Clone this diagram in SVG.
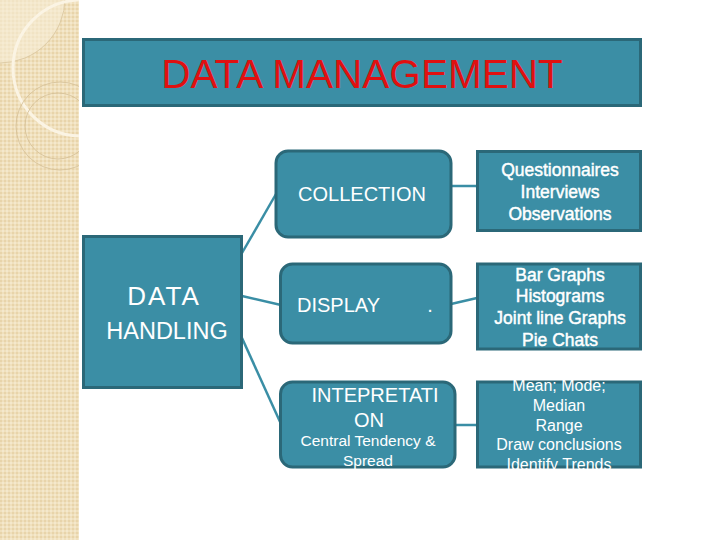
<svg xmlns="http://www.w3.org/2000/svg" width="720" height="540" viewBox="0 0 720 540">
<defs>
<pattern id="tex" width="4" height="4" patternUnits="userSpaceOnUse">
<rect width="4" height="4" fill="#f0e0bd"/>
<rect width="2" height="2" fill="#e8d4aa"/>
<rect x="2" y="2" width="2" height="2" fill="#f4e8cc"/>
</pattern>
<clipPath id="side"><rect x="0" y="0" width="79" height="540"/></clipPath>
<marker id="dot" markerWidth="4" markerHeight="4" refX="2" refY="2" markerUnits="userSpaceOnUse"><circle cx="2" cy="2" r="1.6" fill="#3a8ea5"/></marker>
</defs>
<style>
.box{fill:#3b8ea5;stroke:#2b6878;stroke-width:3}
.t{font-family:"Liberation Sans",Arial,sans-serif;fill:#ffffff}
.m{text-anchor:middle}
.b{stroke:#ffffff;stroke-width:0.45}
.c{stroke:#3a8ea5;stroke-width:2.5;fill:none}
</style>
<rect width="720" height="540" fill="#ffffff"/>
<g id="sidebar" clip-path="url(#side)">
<rect x="0" y="0" width="79" height="540" fill="url(#tex)"/>
<circle cx="0" cy="-2" r="65" fill="#f6ecd6" fill-opacity="0.6" stroke="#d8c49c" stroke-width="0.8"/>
<circle cx="81" cy="68" r="68" fill="none" stroke="#fbf4e4" stroke-width="3"/>
<circle cx="60" cy="126" r="44" fill="none" stroke="#d4bf95" stroke-width="0.8"/>
<circle cx="58" cy="126" r="33" fill="none" stroke="#d4bf95" stroke-width="0.8"/>
</g>
<g id="title">
<rect class="box" x="83.5" y="39.5" width="557" height="66"/>
<text x="362" y="88" font-family="'Liberation Sans',Arial,sans-serif" font-size="40.5" fill="#e01010" text-anchor="middle">DATA MANAGEMENT</text>
</g>
<g id="connectors">
<line class="c" x1="242" y1="253" x2="276" y2="194"/>
<line class="c" x1="242" y1="296" x2="281" y2="305"/>
<line class="c" x1="242" y1="338" x2="281" y2="424"/>
<line class="c" x1="451" y1="186" x2="477" y2="186" marker-end="url(#dot)"/>
<line class="c" x1="451" y1="304" x2="477" y2="298" marker-end="url(#dot)"/>
<line class="c" x1="455" y1="425" x2="477" y2="425" marker-end="url(#dot)"/>
</g>
<g id="handling">
<rect class="box" x="83.5" y="236.5" width="158" height="151"/>
<text class="t m" x="164" y="305" font-size="26" letter-spacing="2">DATA</text>
<text class="t m" x="167" y="339" font-size="23.5">HANDLING</text>
</g>
<g id="collection">
<rect class="box" x="276" y="151" width="175" height="86" rx="12"/>
<text class="t m" x="362" y="201" font-size="20">COLLECTION</text>
</g>
<g id="display">
<rect class="box" x="280.5" y="264" width="170.5" height="79" rx="12"/>
<text class="t" x="297" y="312" font-size="20">DISPLAY</text>
<text class="t m" x="430" y="312" font-size="20">.</text>
</g>
<g id="interpretation">
<rect class="box" x="280.5" y="382" width="174.5" height="85" rx="12"/>
<text class="t m" x="375" y="402" font-size="20">INTEPRETATI</text>
<text class="t m" x="369" y="427" font-size="20">ON</text>
<text class="t m" x="368" y="446" font-size="15.5">Central Tendency &amp;</text>
<text class="t m" x="368" y="466" font-size="15.5">Spread</text>
</g>
<g id="methods">
<rect class="box" x="477.5" y="151.5" width="163" height="79"/>
<text class="t m b" x="560" y="176" font-size="17.5">Questionnaires</text>
<text class="t m b" x="560" y="198" font-size="17.5">Interviews</text>
<text class="t m b" x="560" y="220" font-size="17.5">Observations</text>
</g>
<g id="graphs">
<rect class="box" x="477.5" y="264" width="163" height="85"/>
<text class="t m b" x="560" y="281" font-size="17.5">Bar Graphs</text>
<text class="t m b" x="560" y="302" font-size="17.5">Histograms</text>
<text class="t m b" x="560" y="324" font-size="17.5">Joint line Graphs</text>
<text class="t m b" x="560" y="346" font-size="17.5">Pie Chats</text>
</g>
<g id="measures">
<rect class="box" x="477.5" y="382" width="163" height="85"/>
<text class="t m" x="559" y="391" font-size="16">Mean; Mode;</text>
<text class="t m" x="559" y="411" font-size="16">Median</text>
<text class="t m" x="559" y="431" font-size="16">Range</text>
<text class="t m" x="559" y="450" font-size="16">Draw conclusions</text>
<text class="t m" x="559" y="470" font-size="16">Identify Trends</text>
</g>
</svg>
